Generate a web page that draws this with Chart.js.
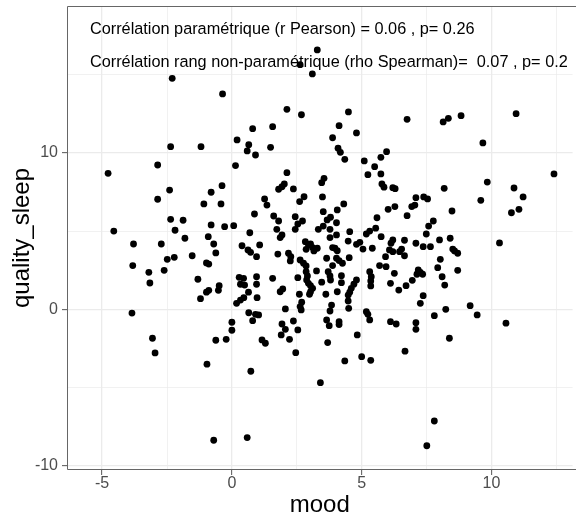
<!DOCTYPE html>
<html>
<head>
<meta charset="utf-8">
<script src="https://cdn.jsdelivr.net/npm/chart.js@4.4.0/dist/chart.umd.min.js"></script>
<style>
html, body { margin: 0; padding: 0; background: #fff; }
#wrap { width: 576px; height: 515px; }
</style>
</head>
<body>
<div id="wrap"><canvas id="scatterChart" width="576" height="515"></canvas></div>
<script>
// ---- data ----
const mood = [
  -2.30, -0.36, -2.36, -1.19, -2.86, -4.77, -2.40, -0.38, -0.80,
  2.63, 3.10, 2.12, 2.68, 4.49, 4.13, 1.57, 0.80, 4.80, 0.20, 3.88, 0.65, 0.59, 0.91, 1.49, 4.09, 4.18, 4.35,
  5.96, 5.74, 5.10, 0.14, 5.50, 5.24, 5.74, 2.12, 5.78, 5.86, 6.20, 6.29, 2.02, 1.93, 1.80, 2.37, 3.55, 3.46,
  6.75, 8.14, 8.34, 8.83, 10.95, 9.67, 12.41, 9.84, 8.18, 10.87,
  3.29,
  -2.86, -1.08, -0.42, -2.36, -1.88, -2.19, -4.55, -0.80, -0.28, 0.07, -3.79, -2.72, -1.81, -0.91, -0.70, -0.62,
  -2.49, -2.22, -1.53, -3.82, -0.98, -0.89, -3.20, -2.61, -3.16, -1.31, -0.49, -0.52, -0.98, -0.89, -1.21, -3.85,
  1.26, 1.35, 2.78, 2.61, 3.49, 0.87, 1.61, 1.80, 2.44, 2.72, 2.54, 1.73, 2.44, 3.52, 4.06, 4.31, 3.80, 3.67,
  4.03, 3.33, 3.52, 3.78, 6.02, 6.28, 5.59, 5.54, 5.31, 5.18, 0.69, 0.39, 1.07, 0.62, 0.72, 0.95, 1.77, 1.93,
  1.86, 2.18, 2.27, 2.25, 2.83, 2.95, 3.03, 3.11, 3.29, 2.86, 3.16, 3.78, 4.03, 3.88, 3.97, 4.06, 4.54, 4.48,
  4.80, 4.93, 5.05, 5.41, 5.75, 6.20, 6.13, 6.07, 6.20, 6.46, 3.65, 4.03, 4.13, 4.26, 4.52, 2.63, 2.76, 2.86,
  3.88, 5.92, 5.69, 5.94, 3.26, 2.86, 2.91, 2.88, 3.71, 3.78, 3.80, 4.22, 0.28, 0.45, 0.95, 1.57, 2.54, 0.33,
  0.49, 0.95, 2.95, 3.03, 3.46, 4.22, 4.80, 4.70, 4.60, 4.54, 4.48, 5.31, 5.37, 5.35, 5.35, 6.26, 6.11, 6.43,
  0.64, 0.46, 0.33, 0.18, 1.96, 1.86, 3.11, 3.03, 2.99, 3.62, 4.06, 0.97, 2.60, 2.69, 2.63, 2.67, 3.84, 4.48,
  4.50, 0.65, 0.91, 1.03, 2.06, 3.78, 5.18, 5.24,
  0.80, 1.93, 2.06, 1.90, 2.37, 2.54, 2.22, 1.16, 1.29, 2.46, 3.65, 3.75, 4.13, 4.13, 3.69, 4.83, 5.31, 6.11,
  6.33, 4.35, 5.00, 5.35, 0.73, 3.41, 0.59,
  0.00, 0.00, -0.22, -0.62, -3.06, -2.96, -0.96, -0.70,
  7.09, 7.09, 8.38, 6.67, 10.56, 7.80, 7.51,
  7.09, 7.39, 7.54, 9.59, 11.22, 6.93, 7.05, 6.75, 8.48, 10.77, 11.06, 7.76, 7.58, 7.49, 6.65, 7.09, 7.37, 7.65,
  8.00, 8.41, 10.31, 6.54, 6.65, 8.51, 8.58, 8.70, 8.03, 7.93, 8.70, 7.18, 7.26, 7.13, 7.35, 8.10, 8.20, 6.95,
  6.71, 7.37, 7.26, 9.18, 8.24, 7.80, 9.45
];
const qualitySleep = [
  14.76, 13.76, 10.39, 10.39, 9.22, 8.69, 7.62, 7.90, 7.48,
  15.63, 15.04, 12.78, 12.43, 12.61, 11.73, 11.67, 11.54, 11.27, 10.82, 10.96, 10.52, 10.12, 9.86, 10.35, 10.29, 10.03, 9.58,
  10.07, 9.71, 9.48, 9.18, 9.11, 8.60, 8.65, 8.73, 8.01, 7.80, 7.77, 7.71, 8.01, 7.83, 7.67, 7.69, 8.37, 8.09,
  12.14, 11.97, 12.20, 12.37, 12.50, 10.63, 8.65, 8.13, 7.73, 7.75,
  16.57,
  7.03, 6.73, 6.73, 5.75, 5.69, 5.05, 5.00, 5.39, 5.28, 5.34, 4.17, 4.17, 4.54, 4.64, 4.17, 3.60,
  3.19, 3.32, 3.42, 2.79, 2.96, 2.89, 2.36, 2.49, 1.68, 1.92, 1.51, 1.21, 1.09, 1.21, 0.68, -0.24,
  7.05, 6.66, 7.19, 6.88, 7.18, 6.09, 5.96, 5.64, 5.92, 5.64, 5.45, 5.11, 5.11, 6.24, 6.35, 6.73, 5.88, 5.71,
  5.53, 5.11, 5.32, 5.11, 6.39, 6.56, 5.85, 5.18, 5.00, 4.81, 4.89, 4.06, 4.11, 3.79, 3.64, 3.36, 3.53, 4.75,
  4.58, 3.58, 3.36, 3.09, 4.32, 4.11, 4.17, 3.94, 3.90, 3.83, 3.73, 4.58, 4.75, 3.94, 3.90, 3.74, 4.96, 4.36,
  4.15, 4.28, 3.85, 3.90, 4.64, 4.43, 4.22, 3.79, 3.68, 3.68, 3.26, 3.26, 3.11, 2.94, 3.30, 3.15, 2.94, 2.77,
  2.79, 3.36, 2.79, 2.72, 2.45, 2.40, 2.13, 1.87, 2.40, 2.13, 1.87, 2.15, 2.04, 1.98, 2.08, 1.98, 2.02, 1.60,
  1.55, 1.60, 1.66, 1.51, 1.73, 1.70, 1.87, 1.60, 1.34, 1.09, 0.91, 2.40, 2.08, 1.81, 1.49, 2.30, 1.66, 1.23,
  1.09, 0.74, 0.59, 0.38, 1.30, 1.12, 1.34, 1.12, 0.96, 0.96, 1.12, 0.74, 0.96, 0.45, 0.17, -0.04, 0.27, 0.53,
  0.06, -0.22, -0.32, -0.36, 0.02, -0.11, -0.15, -0.32,
  -0.73, -0.94, -1.28, -1.64, -0.75, -1.32, -1.92, -1.96, -2.17, -2.77, -0.68, -1.05, -0.79, -0.98, -2.13, -1.64, -0.68, -0.79,
  -0.94, -3.30, -3.03, -3.26, -3.96, -4.69, -8.20,
  -0.83, -1.34, -1.92, -1.98, -1.85, -2.79, -3.51, -8.37,
  -0.86, -1.28, -1.85, -2.68, -0.89, -7.14, -8.72,
  7.13, 7.18, 7.05, 6.96, 7.18, 6.56, 6.66, 5.98, 6.28, 6.17, 6.39, 5.64, 5.32, 4.81, 4.41, 4.22, 4.00, 4.00,
  4.43, 4.54, 4.24, 3.85, 3.42, 3.85, 3.73, 3.58, 3.19, 2.66, 2.49, 2.51, 2.36, 2.24, 2.24, 2.08, 1.55, 1.85,
  1.51, 0.87, 0.38, 0.23, 0.00, -0.41, -0.36
];
const xTickLabels = [-5, 0, 5, 10];
const xMinorTicks = [-2.5, 2.5, 7.5, 12.5];
const yTickLabels = [-10, 0, 10];
const yMinorTicks = [-5, 5, 15];
const annotationLines = [
  "Corrélation paramétrique (r Pearson) = 0.06 , p= 0.26",
  "Corrélation rang non-paramétrique (rho Spearman)=  0.07 , p= 0.2"
];

// ---- style ----
const FONT = "'Liberation Sans', Arial, sans-serif";
const annotX = -5.47;
const annotY = [17.9, 15.78];

function buildTicks(major, minor) {
    return major.concat(minor).sort((a, b) => a - b).map(v => ({ value: v }));
}
function gridOpts(major) {
    return {
        color: "#EBEBEB",
        lineWidth: ctx => major.includes(ctx.tick.value) ? 1.3 : 0.7,
        tickColor: ctx => major.includes(ctx.tick.value) ? "#555555" : "rgba(0,0,0,0)",
        tickWidth: 1,
        tickLength: 5,
        drawTicks: true
    };
}

// panel border (the right side falls outside the picture) + correlation text
const panelPlugin = {
    id: "panel",
    afterDatasetsDraw(chart) {
        const { ctx, chartArea: a, scales } = chart;
        ctx.save();
        ctx.strokeStyle = "#666666";
        ctx.lineWidth = 1;
        ctx.beginPath();
        ctx.moveTo(a.right + 10, a.top + 0.5);
        ctx.lineTo(a.left + 0.5, a.top + 0.5);
        ctx.lineTo(a.left + 0.5, a.bottom - 0.5);
        ctx.lineTo(a.right + 10, a.bottom - 0.5);
        ctx.stroke();
        ctx.fillStyle = "#000000";
        ctx.font = "16.3px " + FONT;
        ctx.textAlign = "left";
        ctx.textBaseline = "middle";
        annotationLines.forEach((t, i) => {
            ctx.fillText(t, scales.x.getPixelForValue(annotX), scales.y.getPixelForValue(annotY[i]));
        });
        ctx.restore();
    }
};

const ctxScatter = document.getElementById("scatterChart").getContext("2d");
new Chart(ctxScatter, {
    type: "scatter",
    data: {
        datasets: [{
            data: mood.map((m, i) => ({ x: m, y: qualitySleep[i] })),
            backgroundColor: "#000000",
            borderWidth: 0,
            pointRadius: 3.4,
            pointHoverRadius: 3.4
        }]
    },
    options: {
        responsive: false,
        animation: false,
        devicePixelRatio: 1,
        layout: { padding: { top: 6, right: 0, left: 0, bottom: 0 } },
        scales: {
            x: {
                type: "linear",
                min: -6.353,
                max: 13.127,
                afterBuildTicks: s => { s.ticks = buildTicks(xTickLabels, xMinorTicks); },
                afterFit: s => { s.height = 45; s.paddingLeft = 0; s.paddingRight = 0; },
                grid: gridOpts(xTickLabels),
                border: { display: false },
                ticks: {
                    autoSkip: false,
                    maxRotation: 0,
                    padding: -1,
                    color: "#4D4D4D",
                    font: { family: FONT, size: 16 },
                    callback: v => xTickLabels.includes(v) ? String(v) : ""
                },
                title: {
                    display: true,
                    text: "mood",
                    color: "#000000",
                    font: { family: FONT, size: 24 },
                    padding: { top: 0, bottom: -4.5 }
                }
            },
            y: {
                type: "linear",
                min: -10.27,
                max: 19.38,
                afterBuildTicks: s => { s.ticks = buildTicks(yTickLabels, yMinorTicks); },
                afterFit: s => { s.width = 67; s.paddingTop = 0; s.paddingBottom = 0; },
                grid: gridOpts(yTickLabels),
                border: { display: false },
                ticks: {
                    autoSkip: false,
                    padding: 4,
                    color: "#4D4D4D",
                    font: { family: FONT, size: 16 },
                    callback: v => yTickLabels.includes(v) ? String(v) : ""
                },
                title: {
                    display: true,
                    text: "quality_sleep",
                    color: "#000000",
                    font: { family: FONT, size: 24 },
                    padding: { top: 8, bottom: 0 }
                }
            }
        },
        plugins: {
            legend: { display: false },
            tooltip: { enabled: false }
        }
    },
    plugins: [panelPlugin]
});
</script>
</body>
</html>
